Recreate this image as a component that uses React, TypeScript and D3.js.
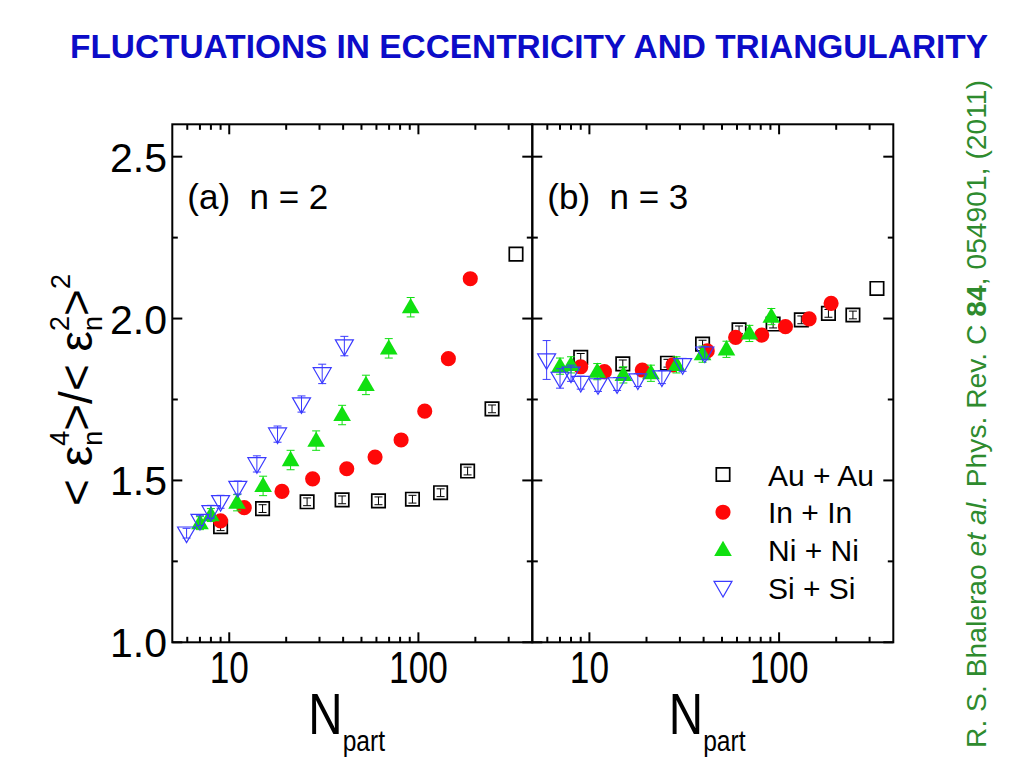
import React from "react";
import * as d3 from "d3";

// ---------- data ----------
const auN = [9, 15, 25.8, 39.5, 61.5, 93, 131, 182, 245, 328];
const inN = [9.0, 12.0, 19, 27.6, 41.8, 59, 81, 108, 144, 188];
const niN = [7.0, 8.0, 11.0, 15.1, 21.1, 28.8, 39.5, 52.8, 69.7, 91];
const siN = [5.95, 7.0, 8.0, 9.0, 11.1, 14.0, 18.0, 24.1, 31.0, 40.6];

// panel (a) n = 2
const auA = [1.357, 1.413, 1.434, 1.44, 1.437, 1.442, 1.462, 1.529, 1.721, 2.199];
const inA = [1.375, 1.416, 1.466, 1.505, 1.536, 1.572, 1.625, 1.714, 1.876, 2.123];
const niA = [1.368, 1.393, 1.431, 1.483, 1.563, 1.623, 1.702, 1.795, 1.908, 2.035];
const siA = [1.337, 1.376, 1.403, 1.434, 1.478, 1.551, 1.643, 1.736, 1.829, 1.915];
const auAErr = [0.012, 0.012, 0.012, 0.012, 0.012, 0.012, 0.012, 0.012, 0.012, 0.0];
const inAErr = [0.01, 0.01, 0.01, 0.01, 0.01, 0.01, 0.01, 0.01, 0.01, 0.01];
const niAErr = [0.02, 0.02, 0.025, 0.03, 0.03, 0.03, 0.03, 0.03, 0.03, 0.03];
const siAErr = [0.015, 0.015, 0.02, 0.02, 0.02, 0.025, 0.025, 0.025, 0.03, 0.03];

// panel (b) n = 3
const auB = [1.88, 1.86, 1.862, 1.921, 1.965, 1.983, 1.996, 2.016, 2.011, 2.093];
const inB = [1.851, 1.836, 1.841, 1.857, 1.9, 1.942, 1.949, 1.975, 1.999, 2.047];
const niB = [1.853, 1.857, 1.836, 1.826, 1.831, 1.857, 1.89, 1.905, 1.954, 2.006];
const siB = [1.872, 1.815, 1.831, 1.802, 1.795, 1.798, 1.81, 1.819, 1.857, 1.893];
const auBErr = [0.012, 0.012, 0.012, 0.012, 0.012, 0.012, 0.012, 0.012, 0.012, 0.0];
const inBErr = [0.01, 0.01, 0.01, 0.01, 0.01, 0.01, 0.01, 0.01, 0.01, 0.01];
const niBErr = [0.025, 0.025, 0.025, 0.025, 0.025, 0.025, 0.025, 0.025, 0.025, 0.025];
const siBErr = [0.06, 0.03, 0.025, 0.02, 0.02, 0.02, 0.02, 0.02, 0.02, 0.02];

const legendLabels = ["Au + Au", "In + In", "Ni + Ni", "Si + Si"];
const yMajor = [1.0, 1.5, 2.0, 2.5];
const yMinor = [1.25, 1.75, 2.25];
const xMajor = [10, 100];
const xMinor = [6, 7, 8, 9, 20, 30, 40, 50, 60, 70, 80, 90, 200, 300];
const xTickLabels = ["10", "100"];
const yTickLabels = ["1.0", "1.5", "2.0", "2.5"];

const FONT = "'Liberation Sans', Arial, Helvetica, sans-serif";

const COLORS = {
  au: "#000000",
  in: "#ff0808",
  ni: "#10e010",
  si: "#3a3aff",
};

type Kind = "square" | "circle" | "triangle" | "itriangle";

function Marker({ kind, x, y, color }: { kind: Kind; x: number; y: number; color: string }) {
  if (kind === "square") {
    const p = d3.symbol().type(d3.symbolSquare).size(180)()!;
    return <path d={p} transform={`translate(${x},${y})`} fill="none" stroke={color} strokeWidth={1.7} />;
  }
  if (kind === "circle") {
    const p = d3.symbol().type(d3.symbolCircle).size(180)()!;
    return <path d={p} transform={`translate(${x},${y})`} fill={color} stroke="none" />;
  }
  if (kind === "triangle") {
    const p = d3.symbol().type(d3.symbolTriangle).size(135)()!;
    return <path d={p} transform={`translate(${x},${y + 1})`} fill={color} stroke="none" />;
  }
  const p = d3.symbol().type(d3.symbolTriangle).size(140)()!;
  return <path d={p} transform={`translate(${x},${y - 1}) rotate(180)`} fill="none" stroke={color} strokeWidth={1.2} />;
}

function Series({
  ns, vals, errs, kind, color, x, y,
}: {
  ns: number[]; vals: number[]; errs: number[]; kind: Kind; color: string;
  x: d3.ScaleLogarithmic<number, number>; y: d3.ScaleLinear<number, number>;
}) {
  return (
    <g>
      {ns.map((n, i) => {
        const cx = x(n);
        const cy = y(vals[i]);
        const e = errs[i];
        const y1 = y(vals[i] + e);
        const y2 = y(vals[i] - e);
        return (
          <g key={i}>
            {e > 0 && (
              <g stroke={color} strokeWidth={1}>
                <line x1={cx} x2={cx} y1={y1} y2={y2} />
                <line x1={cx - 4} x2={cx + 4} y1={y1} y2={y1} />
                <line x1={cx - 4} x2={cx + 4} y1={y2} y2={y2} />
              </g>
            )}
            <Marker kind={kind} x={cx} y={cy} color={color} />
          </g>
        );
      })}
    </g>
  );
}

function Panel({
  x, y, label, data,
}: {
  x: d3.ScaleLogarithmic<number, number>;
  y: d3.ScaleLinear<number, number>;
  label: string;
  data: { au: number[]; inn: number[]; ni: number[]; si: number[]; auE: number[]; inE: number[]; niE: number[]; siE: number[] };
}) {
  const [x0, x1] = x.range();
  const [y0, y1] = y.range(); // y0 bottom, y1 top
  const maj = 10;
  const min = 5.5;
  return (
    <g>
      {/* ticks */}
      <g stroke="#000" strokeWidth={2}>
        {yMajor.map((v) => (
          <g key={"ym" + v}>
            <line x1={x0} x2={x0 + maj} y1={y(v)} y2={y(v)} />
            <line x1={x1} x2={x1 - maj} y1={y(v)} y2={y(v)} />
          </g>
        ))}
        {yMinor.map((v) => (
          <g key={"yn" + v}>
            <line x1={x0} x2={x0 + min} y1={y(v)} y2={y(v)} />
            <line x1={x1} x2={x1 - min} y1={y(v)} y2={y(v)} />
          </g>
        ))}
        {xMajor.map((v) => (
          <g key={"xm" + v}>
            <line x1={x(v)} x2={x(v)} y1={y0} y2={y0 - maj} />
            <line x1={x(v)} x2={x(v)} y1={y1} y2={y1 + maj} />
          </g>
        ))}
        {xMinor.map((v) => (
          <g key={"xn" + v}>
            <line x1={x(v)} x2={x(v)} y1={y0} y2={y0 - min} />
            <line x1={x(v)} x2={x(v)} y1={y1} y2={y1 + min} />
          </g>
        ))}
      </g>
      <rect x={x0} y={y1} width={x1 - x0} height={y0 - y1} fill="none" stroke="#000" strokeWidth={2} />

      {/* x tick labels */}
      {xMajor.map((v, i) => (
        <text
          key={"xl" + v}
          transform={`translate(${x(v)},${y0 + 41}) scale(0.8,1)`}
          textAnchor="middle"
          fontFamily={FONT}
          fontSize={44}
          fill="#000"
        >
          {xTickLabels[i]}
        </text>
      ))}
      {/* x axis title */}
      <g transform={`translate(${(x0 + x1) / 2 - 44},${y0 + 92}) scale(0.82,1)`}>
        <text fontFamily={FONT} fill="#000" fontSize={58} textAnchor="start">
          N
          <tspan fontSize={30} dy={17}>part</tspan>
        </text>
      </g>

      {/* panel label */}
      <text x={x0 + 15} y={y1 + 85} fontFamily={FONT} fontSize={35} fill="#000" style={{ whiteSpace: "pre" }}>
        {label}
      </text>

      {/* data */}
      <Series ns={auN} vals={data.au} errs={data.auE} kind="square" color={COLORS.au} x={x} y={y} />
      <Series ns={inN} vals={data.inn} errs={data.inE} kind="circle" color={COLORS.in} x={x} y={y} />
      <Series ns={niN} vals={data.ni} errs={data.niE} kind="triangle" color={COLORS.ni} x={x} y={y} />
      <Series ns={siN} vals={data.si} errs={data.siE} kind="itriangle" color={COLORS.si} x={x} y={y} />
    </g>
  );
}

export default function App() {
  const W = 1024;
  const H = 768;
  const left = 172.3;
  const mid = 532.3;
  const right = 893.3;
  const top = 124.3;
  const bottom = 642.3;

  const y = d3.scaleLinear().domain([1.0, 2.6]).range([bottom, top]);
  const xA = d3.scaleLog().domain([5, 400]).range([left, mid]);
  const xB = d3.scaleLog().domain([5, 400]).range([mid, right]);

  const legendKinds: Kind[] = ["square", "circle", "triangle", "itriangle"];
  const legendColors = [COLORS.au, COLORS.in, COLORS.ni, COLORS.si];

  return (
    <svg width={W} height={H} style={{ position: "absolute", left: 0, top: 0, background: "#fff" }}>
      <rect x={0} y={0} width={W} height={H} fill="#fff" />
      {/* title */}
      <text
        x={70}
        y={58}
        fontFamily={FONT}
        fontWeight="bold"
        fontSize={34}
        fill="#0c0cc8"
        textLength={918}
        lengthAdjust="spacingAndGlyphs"
      >
        FLUCTUATIONS IN ECCENTRICITY AND TRIANGULARITY
      </text>

      {/* citation */}
      <g transform="translate(986,414) rotate(-90)">
        <text textAnchor="middle" fontFamily={FONT} fontSize={27} fill="#2e8b2e" textLength={668} lengthAdjust="spacingAndGlyphs">
          R. S. Bhalerao <tspan fontStyle="italic">et al.</tspan> Phys. Rev. C <tspan fontWeight="bold">84</tspan>, 054901, (2011)
        </text>
      </g>

      {/* y tick labels */}
      {yMajor.map((v, i) => (
        <text key={"yt" + v} x={167} y={y(v) + 15} textAnchor="end" fontFamily={FONT} fontSize={41} fill="#000">
          {yTickLabels[i]}
        </text>
      ))}

      {/* y axis title */}
      <g transform="translate(92,390) rotate(-90)">
        <text textAnchor="middle" fontFamily={FONT} fill="#000" fontSize={46} style={{ whiteSpace: "pre" }}>
          {"< ε"}
          <tspan fontSize={27} dy={10}>n</tspan>
          <tspan fontSize={27} dx={-15} dy={-33}>4</tspan>
          <tspan fontSize={46} dy={23}>{">/< ε"}</tspan>
          <tspan fontSize={27} dy={10}>n</tspan>
          <tspan fontSize={27} dx={-15} dy={-33}>2</tspan>
          <tspan fontSize={46} dy={23}>{">"}</tspan>
          <tspan fontSize={27} dy={-22}>2</tspan>
        </text>
      </g>

      <Panel
        x={xA}
        y={y}
        label="(a)  n = 2"
        data={{ au: auA, inn: inA, ni: niA, si: siA, auE: auAErr, inE: inAErr, niE: niAErr, siE: siAErr }}
      />
      <Panel
        x={xB}
        y={y}
        label="(b)  n = 3"
        data={{ au: auB, inn: inB, ni: niB, si: siB, auE: auBErr, inE: inBErr, niE: niBErr, siE: siBErr }}
      />

      {/* legend */}
      {legendLabels.map((lab, i) => {
        const ly = 474.5 + i * 37.7;
        return (
          <g key={lab}>
            <Marker kind={legendKinds[i]} x={723} y={ly} color={legendColors[i]} />
            <text x={768} y={ly + 11} fontFamily={FONT} fontSize={30} fill="#000">
              {lab}
            </text>
          </g>
        );
      })}
    </svg>
  );
}
